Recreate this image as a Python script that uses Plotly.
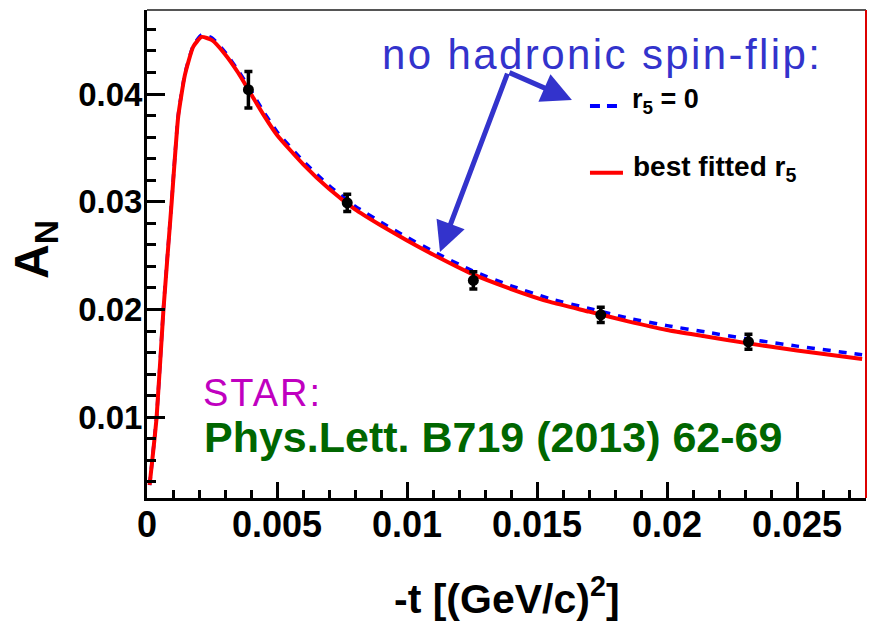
import plotly.graph_objects as go

# ---- data ----
pt_t = [0.0039, 0.0077, 0.01255, 0.01745, 0.02313]
pt_an = [0.0404, 0.0299, 0.0227, 0.0195, 0.0170]
pt_err = [0.0017, 0.0008, 0.0008, 0.0007, 0.0007]

curve_t = [0.0001, 0.00037, 0.00063, 0.00095, 0.0012, 0.00146, 0.00178, 0.0021,
           0.0025, 0.003, 0.0035, 0.004, 0.0045, 0.005, 0.006, 0.007, 0.008,
           0.009, 0.010, 0.011, 0.0125, 0.014, 0.0155, 0.017, 0.0185, 0.020,
           0.0215, 0.023, 0.025, 0.0275]
red_an = [0.0037, 0.0100, 0.0199, 0.0300, 0.0379, 0.0418, 0.0444, 0.0453,
          0.0450, 0.0437, 0.0420, 0.0400, 0.0380, 0.0362, 0.0335, 0.0312, 0.0293,
          0.0278, 0.0264, 0.0251, 0.0233, 0.0219, 0.0207, 0.0198, 0.0189, 0.0181,
          0.0175, 0.0169, 0.0162, 0.0154]
blue_an = [0.0037, 0.0101, 0.0200, 0.0301, 0.0380, 0.0419, 0.0445, 0.0455,
           0.0452, 0.0439, 0.0422, 0.0403, 0.0383, 0.0365, 0.0338, 0.0315, 0.0296,
           0.0281, 0.0267, 0.0254, 0.0236, 0.0222, 0.0210, 0.0201, 0.0192, 0.0185,
           0.0179, 0.0173, 0.0166, 0.0158]

x_ticks = [0, 0.005, 0.01, 0.015, 0.02, 0.025]
x_tick_labels = ["0", "0.005", "0.01", "0.015", "0.02", "0.025"]
y_ticks = [0.01, 0.02, 0.03, 0.04]
y_tick_labels = ["0.01", "0.02", "0.03", "0.04"]

FONT = "Liberation Sans, Arial, Helvetica, sans-serif"
ARROW = "rgb(51,51,204)"

fig = go.Figure()
fig.add_trace(go.Scatter(x=curve_t, y=blue_an, mode="lines",
                         line=dict(color="rgb(0,0,255)", width=3.5, dash="8px,8px", shape="spline", smoothing=0.5),
                         showlegend=False, hoverinfo="skip"))
fig.add_trace(go.Scatter(x=curve_t, y=red_an, mode="lines",
                         line=dict(color="rgb(255,0,0)", width=4, shape="spline", smoothing=0.5),
                         showlegend=False, hoverinfo="skip"))
fig.add_trace(go.Scatter(x=pt_t, y=pt_an, mode="markers",
                         marker=dict(color="black", size=11),
                         error_y=dict(type="data", array=pt_err, color="black", thickness=3.5, width=4),
                         showlegend=False))

fig.update_layout(
    width=875, height=627,
    margin=dict(l=147, r=9, t=10, b=129),
    paper_bgcolor="white", plot_bgcolor="white",
    font=dict(family=FONT, color="black"),
    xaxis=dict(range=[0, 0.02765], showgrid=False, zeroline=False,
               showline=True, linecolor="black", linewidth=3,
               tickmode="array", tickvals=x_ticks, ticktext=x_tick_labels,
               ticks="inside", ticklen=16, tickwidth=3, tickcolor="black",
               ticklabelstandoff=-7,
               tickfont=dict(size=36, weight="bold", family=FONT),
               minor=dict(dtick=0.001, tick0=0, ticks="inside", ticklen=8, tickwidth=3, tickcolor="black")),
    yaxis=dict(range=[0.0025, 0.0478], showgrid=False, zeroline=False,
               showline=True, linecolor="black", linewidth=3,
               tickmode="array", tickvals=y_ticks, ticktext=y_tick_labels,
               ticks="inside", ticklen=18, tickwidth=3, tickcolor="black",
               ticklabelstandoff=-5,
               tickfont=dict(size=33, weight="bold", family=FONT),
               minor=dict(dtick=0.002, tick0=0, ticks="inside", ticklen=9, tickwidth=3, tickcolor="black")),
)

# frame: top grey, right red
fig.add_shape(type="line", xref="paper", yref="paper", x0=0, x1=1, y0=1, y1=1,
              line=dict(color="#555555", width=2))
fig.add_shape(type="line", xref="paper", yref="paper", x0=1, x1=1, y0=0, y1=1,
              line=dict(color="rgb(220,0,0)", width=2))

# legend samples
fig.add_shape(type="line", xref="paper", yref="paper", x0=0.6161, x1=0.6537, y0=0.8033, y1=0.8033,
              line=dict(color="rgb(0,0,255)", width=4, dash="10px,7px"))
fig.add_shape(type="line", xref="paper", yref="paper", x0=0.6161, x1=0.662, y0=0.6666, y1=0.6666,
              line=dict(color="rgb(255,0,0)", width=4))

ann = []
ann.append(dict(text="<span style=\"letter-spacing:2.4px\">no hadronic spin-flip:</span>",
                xref="paper", yref="paper", x=0.324, y=0.9098,
                xanchor="left", yanchor="middle", showarrow=False,
                font=dict(size=42, color=ARROW, family=FONT)))
ann.append(dict(text="<b>r<sub>5</sub> = 0</b>", xref="paper", yref="paper", x=0.6718, y=0.8135,
                xanchor="left", yanchor="middle", showarrow=False,
                font=dict(size=27, color="black", family=FONT)))
ann.append(dict(text="<b>best fitted r<sub>5</sub></b>", xref="paper", yref="paper", x=0.6733, y=0.676,
                xanchor="left", yanchor="middle", showarrow=False,
                font=dict(size=28, color="black", family=FONT)))
ann.append(dict(text="<span style=\"letter-spacing:2px\">STAR:</span>", xref="paper", yref="paper", x=0.075, y=0.215,
                xanchor="left", yanchor="middle", showarrow=False,
                font=dict(size=38, color="rgb(192,0,192)", family=FONT)))
ann.append(dict(text="<b>Phys.Lett. B719 (2013) 62-69</b>", xref="paper", yref="paper", x=0.077, y=0.126,
                xanchor="left", yanchor="middle", showarrow=False,
                font=dict(size=43, color="rgb(0,102,0)", family=FONT)))
# axis titles
ann.append(dict(text="<b>-t [(GeV/c)<sup>2</sup>]</b>", xref="paper", yref="paper", x=0.6606, y=-0.2,
                xanchor="right", yanchor="middle", showarrow=False,
                font=dict(size=41, color="black", family=FONT)))
ann.append(dict(text="<b>A<sub>N</sub></b>", xref="paper", yref="paper", x=-0.156, y=0.51,
                xanchor="center", yanchor="middle", showarrow=False, textangle=-90,
                font=dict(size=48, color="black", family=FONT)))
# arrows
ann.append(dict(text="", xref="paper", yref="paper", x=0.4075, y=0.504, ax=68, ay=-180,
                showarrow=True, arrowhead=2, arrowsize=1.2, arrowwidth=5, arrowcolor=ARROW))
ann.append(dict(text="", xref="paper", yref="paper", x=0.591, y=0.8156, ax=-64, ay=-28,
                showarrow=True, arrowhead=2, arrowsize=1.2, arrowwidth=5, arrowcolor=ARROW))
fig.update_layout(annotations=ann)

fig.write_html("out.html")
